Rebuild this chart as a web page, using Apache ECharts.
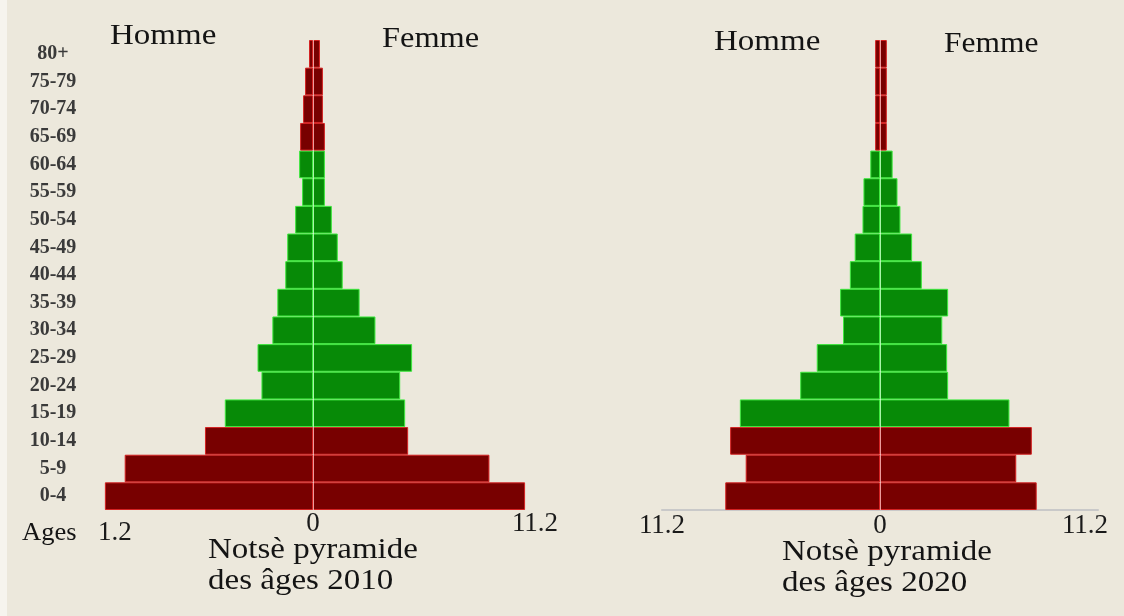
<!DOCTYPE html>
<html>
<head>
<meta charset="utf-8">
<script src="https://cdn.jsdelivr.net/npm/echarts@6/dist/echarts.min.js"></script>
<style>
  html, body { margin: 0; padding: 0; background: #ece8dc; }
  #main { width: 1124px; height: 616px; }
</style>
</head>
<body>
<div id="main"></div>
<script>
// age groups, bottom to top
var ages = ['0-4','5-9','10-14','15-19','20-24','25-29','30-34','35-39','40-44',
            '45-49','50-54','55-59','60-64','65-69','70-74','75-79','80+'];

// 2010 (percent)
var homme2010 = [10.5, 9.5, 5.45, 4.45, 2.6, 2.8, 2.05, 1.8, 1.4, 1.3, 0.9, 0.55, 0.7, 0.65, 0.5, 0.4, 0.2];
var femme2010 = [10.7, 8.9, 4.8, 4.65, 4.4, 5.0, 3.15, 2.35, 1.5, 1.25, 0.95, 0.6, 0.6, 0.6, 0.5, 0.5, 0.35];

// 2020 (percent)
var homme2020 = [7.95, 6.9, 7.7, 7.2, 4.1, 3.25, 1.9, 2.05, 1.55, 1.3, 0.9, 0.85, 0.5, 0.25, 0.25, 0.25, 0.25];
var femme2020 = [8.05, 7.0, 7.8, 6.65, 3.5, 3.45, 3.2, 3.5, 2.15, 1.65, 1.05, 0.9, 0.65, 0.35, 0.35, 0.35, 0.35];

// active ages (15-64) drawn green, dependants red
var active = ['15-19','20-24','25-29','30-34','35-39','40-44','45-49','50-54','55-59','60-64'];

var axisMax = 11.2;

var serif = '"Liberation Serif", "DejaVu Serif", serif';

function barData(vals, sign) {
    return vals.map(function (v, i) {
        var green = active.indexOf(ages[i]) >= 0;
        return {
            value: sign * v,
            itemStyle: {
                color: green ? '#078a07' : '#780000',
                borderColor: green ? '#3ee83e' : '#d42222',
                borderWidth: 1
            }
        };
    });
}

function pyramid(gridIdx, men, women) {
    return [{
        type: 'bar', xAxisIndex: gridIdx, yAxisIndex: gridIdx,
        barWidth: '100%', barGap: '-100%',
        data: barData(men, -1),
        markLine: {
            silent: true, symbol: 'none', label: { show: false },
            lineStyle: { color: 'rgba(255,255,255,0.55)', width: 1, type: 'solid' },
            data: [{ xAxis: 0 }]
        },
        z: 2
    }, {
        type: 'bar', xAxisIndex: gridIdx, yAxisIndex: gridIdx,
        barWidth: '100%', barGap: '-100%',
        data: barData(women, 1),
        z: 2
    }];
}

function label(text, x, y, size, sx) {
    return {
        type: 'text', x: x, y: y, scaleX: sx || 1,
        style: { text: text, font: size + 'px ' + serif, fill: '#141414', lineHeight: 31, verticalAlign: 'top' }
    };
}

var myChart = echarts.init(document.getElementById('main'));

var option = {
    backgroundColor: '#ece8dc',
    animation: false,
    grid: [
        { left: 91, right: 589, top: 40, bottom: 106 },
        { left: 662, right: 26, top: 40, bottom: 106 }
    ],
    xAxis: [{
        gridIndex: 0, type: 'value', min: -axisMax, max: axisMax, interval: axisMax,
        splitLine: { show: false }, axisTick: { show: false },
        axisLine: { show: false },
        axisLabel: {
            margin: 0, fontFamily: serif, fontSize: 27, color: '#1a1a1a',
            alignMinLabel: 'left',
            formatter: function (v) {
                if (v < 0) return '{low|1.2}';
                return v === 0 ? '0' : '11.2';
            },
            rich: { low: { fontFamily: serif, fontSize: 27, color: '#1a1a1a', padding: [9, 0, 0, 7] } }
        }
    }, {
        gridIndex: 1, type: 'value', min: -axisMax, max: axisMax, interval: axisMax,
        splitLine: { show: false }, axisTick: { show: false },
        axisLine: { show: true, lineStyle: { color: '#c9c9c9', width: 2 } },
        axisLabel: {
            margin: 2, fontFamily: serif, fontSize: 27, color: '#1a1a1a',
            formatter: function (v) {
                if (v > 0) return '{r|11.2}';
                return v === 0 ? '0' : '11.2';
            },
            rich: { r: { fontFamily: serif, fontSize: 27, color: '#1a1a1a', padding: [0, 26, 0, 0] } }
        }
    }],
    yAxis: [{
        gridIndex: 0, type: 'category', data: ages,
        axisLine: { show: false }, axisTick: { show: false },
        axisLabel: {
            margin: 38, fontFamily: serif, fontSize: 20, fontWeight: 'bold',
            color: '#3a3a3a', align: 'center'
        }
    }, {
        gridIndex: 1, type: 'category', data: ages,
        axisLine: { show: false }, axisTick: { show: false },
        axisLabel: { show: false }
    }],
    series: pyramid(0, homme2010, femme2010).concat(pyramid(1, homme2020, femme2020)),
    graphic: [
        { type: 'rect', left: 0, top: 0, shape: { width: 7, height: 616 }, style: { fill: '#f6f4ee' } },
        label('Homme', 110, 21, 30, 1.1),
        label('Femme', 382, 24, 30, 1.08),
        label('Homme', 714, 27, 30, 1.1),
        label('Femme', 944, 29, 30, 1.05),
        label('Ages', 22, 518, 26, 1.02),
        label('Notsè pyramide\ndes âges 2010', 208, 535, 30, 1.1),
        label('Notsè pyramide\ndes âges 2020', 782, 537, 30, 1.1)
    ]
};

myChart.setOption(option);
</script>
</body>
</html>
